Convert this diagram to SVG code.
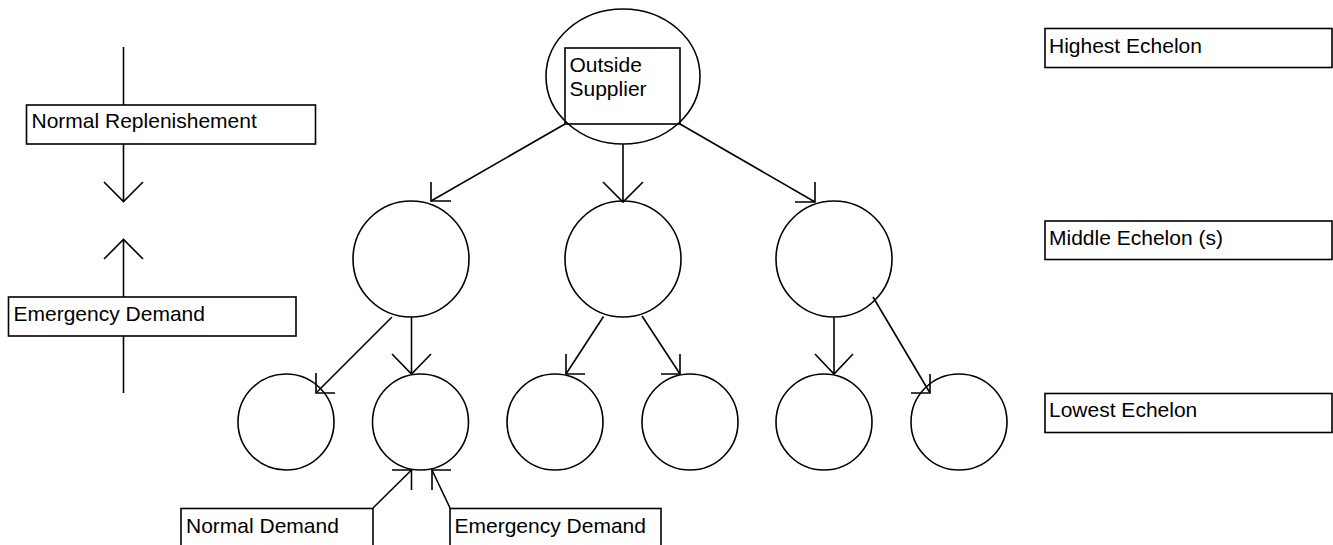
<svg xmlns="http://www.w3.org/2000/svg" width="1333" height="545" viewBox="0 0 1333 545">
<style>
.s{fill:none;stroke:#000;stroke-width:1.6}
.n{fill:#fff;stroke:#000;stroke-width:1.6}
.t{font-family:"Liberation Sans",Arial,sans-serif;font-size:21px;fill:#000}
</style>
<rect width="1333" height="545" fill="#fff"/>
<g id="connectors">
<line class="s" x1="565" y1="124" x2="431" y2="201"/>
<polyline class="s" points="431,182 431,201 451,201"/>
<line class="s" x1="623" y1="144" x2="623" y2="202"/>
<polyline class="s" points="603,182 623,202 643,182"/>
<line class="s" x1="680" y1="124" x2="815" y2="202"/>
<polyline class="s" points="815,182 815,202 795,202"/>
<line class="s" x1="392" y1="317" x2="316" y2="393"/>
<polyline class="s" points="316,373 316,393 335,393"/>
<line class="s" x1="411.5" y1="317" x2="411.5" y2="374"/>
<polyline class="s" points="392,354 411.5,374 431,354"/>
<line class="s" x1="603.5" y1="316.5" x2="566" y2="374"/>
<polyline class="s" points="566,354 566,374 585,374"/>
<line class="s" x1="642" y1="316" x2="680" y2="374"/>
<polyline class="s" points="680,354 680,374 661,374"/>
<line class="s" x1="834" y1="317" x2="834" y2="374"/>
<polyline class="s" points="815,354 834,374 853,354"/>
<line class="s" x1="873" y1="297" x2="930" y2="393"/>
<polyline class="s" points="930,374 930,393 911,393"/>
<line class="s" x1="373" y1="508" x2="411.5" y2="470"/>
<polyline class="s" points="392,470 411.5,470 411.5,490"/>
<line class="s" x1="450" y1="508" x2="432" y2="470"/>
<polyline class="s" points="451,470 432,470 432,490"/>
<line class="s" x1="123.5" y1="47" x2="123.5" y2="105"/>
<line class="s" x1="123.5" y1="144" x2="123.5" y2="201.5"/>
<polyline class="s" points="104,182 123.5,201.5 143,182"/>
<line class="s" x1="123.5" y1="239.5" x2="123.5" y2="297"/>
<polyline class="s" points="104,259 123.5,239.5 143,259"/>
<line class="s" x1="123.5" y1="336" x2="123.5" y2="393"/>
</g>
<g id="supplier">
<ellipse class="s" cx="623" cy="76.5" rx="77" ry="67.5"/>
<rect class="s" x="565" y="48" width="115" height="76"/>
<text class="t" x="569.5" y="71.5">Outside</text>
<text class="t" x="569.5" y="95.5">Supplier</text>
</g>
<g id="mid1"><circle class="s" cx="411" cy="259" r="58"/></g>
<g id="mid2"><circle class="s" cx="623" cy="259" r="58"/></g>
<g id="mid3"><circle class="s" cx="834" cy="259" r="58"/></g>
<g id="low1"><circle class="s" cx="286" cy="422" r="48"/></g>
<g id="low2"><circle class="s" cx="420.5" cy="422" r="48"/></g>
<g id="low3"><circle class="s" cx="555" cy="422" r="48"/></g>
<g id="low4"><circle class="s" cx="690" cy="422" r="48"/></g>
<g id="low5"><circle class="s" cx="824" cy="422" r="48"/></g>
<g id="low6"><circle class="s" cx="959" cy="422" r="48"/></g>
<g id="legend-normal-replenishment">
<rect class="n" x="26.5" y="105" width="289" height="39"/>
<text class="t" x="31.5" y="128">Normal Replenishement</text>
</g>
<g id="legend-emergency-demand">
<rect class="n" x="8.5" y="297" width="287.5" height="39"/>
<text class="t" x="13.5" y="321">Emergency Demand</text>
</g>
<g id="normal-demand">
<rect class="n" x="181" y="508.5" width="192" height="50"/>
<text class="t" x="186" y="533">Normal Demand</text>
</g>
<g id="emergency-demand">
<rect class="n" x="450" y="508.5" width="211" height="50"/>
<text class="t" x="454.5" y="533">Emergency Demand</text>
</g>
<g id="highest-echelon">
<rect class="n" x="1045" y="28.5" width="287" height="39"/>
<text class="t" x="1049" y="53">Highest Echelon</text>
</g>
<g id="middle-echelon">
<rect class="n" x="1045" y="221" width="287" height="38.5"/>
<text class="t" x="1049" y="245">Middle Echelon (s)</text>
</g>
<g id="lowest-echelon">
<rect class="n" x="1045" y="393.5" width="287" height="39"/>
<text class="t" x="1049" y="417">Lowest Echelon</text>
</g>
</svg>
